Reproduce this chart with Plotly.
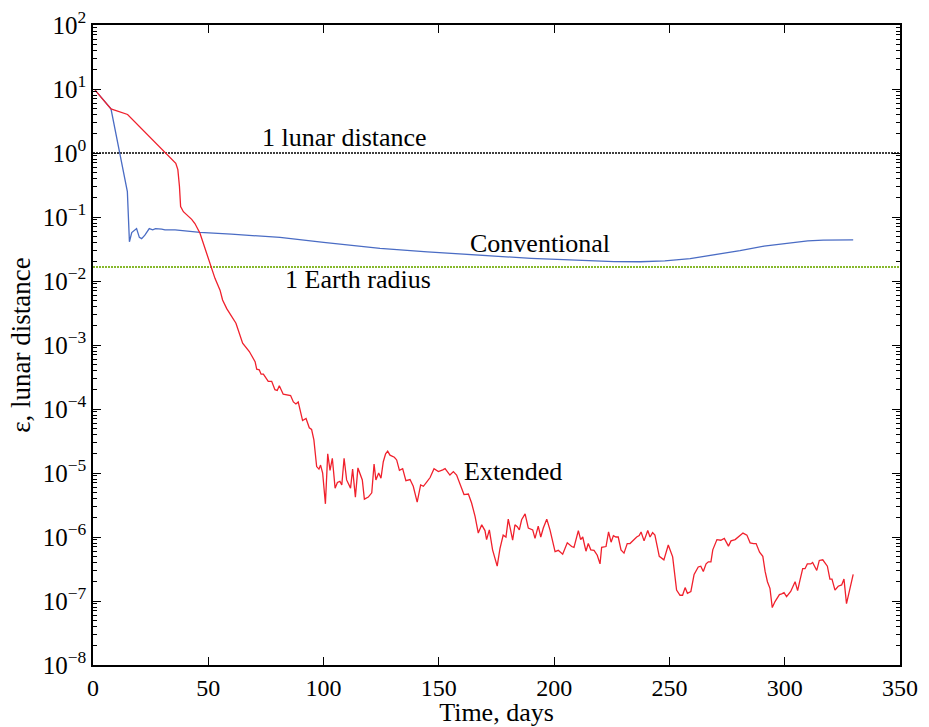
import math
import plotly.graph_objects as go

# ---------------- data ----------------
ext_days = [0.9, 7.8, 15.0, 35.9, 36.8, 37.5, 38.0, 39.2, 42.8, 44.2, 46.4, 48.6, 51.5, 52.9, 55.1,
            56.2, 58.0, 60.9, 62.0, 64.9, 67.8, 70.3, 71.0, 72.1, 72.9, 73.9, 76.0, 77.5, 78.9,
            79.9, 80.8, 82.5, 84.3, 85.7, 86.9, 88.0, 89.0, 90.9, 92.4, 93.8, 94.8, 95.8, 97.0,
            98.0, 98.7, 99.6, 100.8, 101.8, 102.8, 103.8, 105.0, 106.0, 107.1, 107.9, 108.9,
            110.0, 111.7, 112.6, 113.8, 114.9, 116.8, 117.7, 119.4, 120.9, 121.9, 122.7, 123.9,
            124.9, 125.9, 126.9, 127.8, 128.8, 130.7, 131.7, 132.9, 134.3, 135.7, 137.5, 138.9,
            140.6, 142.1, 143.3, 144.7, 146.2, 147.9, 149.8, 151.7, 152.7, 154.8, 156.3, 157.7,
            159.2, 160.9, 162.8, 164.2, 165.7, 167.1, 168.6, 170.0, 170.7, 171.9, 173.3, 175.3,
            176.5, 177.9, 179.1, 180.1, 181.1, 182.0, 183.0, 184.0, 184.9, 185.9, 187.4, 188.8,
            190.7, 191.7, 193.1, 194.2, 195.3, 196.8, 198.2, 199.4, 200.4, 201.8, 203.7, 205.7,
            207.6, 208.6, 210.5, 211.5, 212.4, 213.8, 214.8, 215.9, 217.3, 218.7, 219.9, 220.6,
            222.5, 223.6, 224.7, 225.7, 226.8, 227.8, 229.0, 230.3, 231.7, 232.9, 234.3, 235.8,
            236.9, 237.7, 239.0, 240.6, 241.6, 242.7, 243.7, 245.6, 247.6, 249.5, 251.4, 253.1,
            254.6, 255.7, 256.8, 257.8, 259.3, 260.7, 262.5, 263.6, 264.7, 265.9, 266.9, 268.0,
            268.8, 270.6, 272.3, 273.8, 275.6, 276.7, 278.5, 280.0, 281.9, 283.6, 285.0, 286.5,
            287.6, 289.1, 290.5, 291.5, 292.5, 293.6, 294.6, 295.8, 297.7, 298.7, 299.7, 300.8,
            302.6, 304.5, 305.6, 306.6, 307.8, 308.8, 309.8, 311.3, 312.1, 313.9, 315.0, 316.5,
            318.5, 319.6, 320.5, 321.8, 323.2, 324.7, 325.7, 326.8, 328.0, 329.7]
ext_vals = [9.6, 4.9, 4.0, 0.69, 0.55, 0.3, 0.145, 0.121, 0.092, 0.079, 0.0556, 0.0324, 0.0167, 0.011, 0.0072,
            5.05e-3, 3.7e-3, 2.45e-3, 2.19e-3, 1.07e-3, 7.9e-4, 5.5e-4, 4.2e-4, 4.1e-4, 3.5e-4, 3.5e-4, 2.7e-4, 2.7e-4, 2.0e-4,
            1.95e-4, 2.3e-4, 1.7e-4, 1.66e-4, 1.62e-4, 1.29e-4, 1.2e-4, 1.29e-4, 6.6e-5, 7.1e-5, 5.1e-5, 4.8e-5, 3.3e-5, 1.26e-5,
            1.15e-5, 1.33e-5, 1.0e-5, 3.3e-6, 2.0e-5, 1.1e-5, 1.7e-5, 5.8e-6, 7.1e-6, 7.4e-6, 6.5e-6, 1.7e-5,
            7.8e-6, 5.8e-6, 1.15e-5, 4.2e-6, 1.2e-5, 7.8e-6, 3.9e-6, 4.2e-6, 4.9e-6, 1.38e-5, 7.8e-6, 1.0e-5,
            8.3e-6, 1.5e-5, 2.0e-5, 2.2e-5, 1.9e-5, 1.76e-5, 1.6e-5, 1.1e-5, 1.17e-5, 7.6e-6, 7.9e-6, 6.2e-6,
            3.5e-6, 6.5e-6, 6.2e-6, 7.2e-6, 8.5e-6, 1.17e-5, 1.05e-5, 1.12e-5, 1.17e-5, 9.3e-6, 1.05e-5, 9.3e-6,
            6.5e-6, 4.6e-6, 4.7e-6, 3.4e-6, 2.1e-6, 1.15e-6, 1.55e-6, 1.26e-6, 9.1e-7, 1.29e-6, 6.3e-7, 3.5e-7,
            6.6e-7, 1.07e-6, 1.0e-6, 1.9e-6, 1.29e-6, 8.9e-7, 1.55e-6, 1.45e-6, 1.29e-6, 1.86e-6, 2.3e-6, 1.38e-6,
            1.29e-6, 9.5e-7, 1.48e-6, 1.0e-6, 1.38e-6, 1.9e-6, 1.29e-6, 8.9e-7, 5.9e-7, 6.2e-7, 5.4e-7, 8.1e-7,
            7.1e-7, 6.9e-7, 1.26e-6, 9.1e-7, 1.0e-6, 6.0e-7, 7.9e-7, 6.3e-7, 6.2e-7, 5.2e-7, 3.8e-7, 6.9e-7,
            7.1e-7, 1.2e-6, 8.3e-7, 1.05e-6, 1.0e-6, 1.0e-6, 6.3e-7, 5.6e-7, 7.9e-7, 7.9e-7, 8.9e-7, 1.0e-6,
            1.05e-6, 1.2e-6, 8.7e-7, 1.26e-6, 1.0e-6, 1.17e-6, 1.07e-6, 5.0e-7, 4.4e-7, 7.5e-7, 4.9e-7, 1.48e-7,
            1.23e-7, 1.23e-7, 1.62e-7, 1.32e-7, 1.41e-7, 2.6e-7, 3.4e-7, 3.5e-7, 2.9e-7, 3.8e-7, 4.1e-7, 4.1e-7,
            6.3e-7, 9.1e-7, 8.9e-7, 9.5e-7, 7.2e-7, 8.7e-7, 9.1e-7, 1.0e-6, 1.15e-6, 1.07e-6, 8.1e-7, 7.9e-7,
            7.9e-7, 5.8e-7, 5.0e-7, 2.9e-7, 2.0e-7, 1.58e-7, 7.9e-8, 9.8e-8, 1.26e-7, 1.29e-7, 1.35e-7, 1.17e-7,
            1.41e-7, 2.0e-7, 1.45e-7, 2.1e-7, 3.2e-7, 3.2e-7, 3.8e-7, 3.8e-7, 4.0e-7, 3.0e-7, 4.3e-7, 4.4e-7,
            3.5e-7, 2.2e-7, 2.2e-7, 1.48e-7, 1.7e-7, 1.78e-7, 2.2e-7, 9.1e-8, 1.48e-7, 2.6e-7]

conv_days = [0.9, 7.8, 14.9, 15.8, 16.8, 18.2, 18.9, 20.1, 21.1, 22.5, 24.4, 25.9, 27.1, 29.8, 31.2,
             35.6, 46.4, 60.0, 81.1, 100.0, 124.5, 145.0, 167.8, 190.0, 204.0, 215.6, 226.0, 237.3,
             248.0, 259.0, 270.0, 280.6, 291.0, 302.3, 310.0, 316.7, 323.0, 329.7]
conv_vals = [9.6, 4.9, 0.249, 0.041, 0.057, 0.063, 0.066, 0.048, 0.046, 0.052, 0.066, 0.063, 0.066, 0.0646, 0.063,
             0.063, 0.0575, 0.054, 0.048, 0.040, 0.0324, 0.0285, 0.0251, 0.0226, 0.0215, 0.0207, 0.0201, 0.0200,
             0.0207, 0.0224, 0.0256, 0.0298, 0.0350, 0.0398, 0.0423, 0.0436, 0.0442, 0.0438]

lunar_distance = 1.0
earth_radius = 0.0166
ref_x = [0, 350]

y_tick_exps = list(range(-8, 3))

label_texts = ["1 lunar distance", "1 Earth radius", "Conventional", "Extended"]
label_x = [109, 115, 194, 182]
label_y = [1.72, 0.0104, 0.039, 1.05e-5]

FONT = "Liberation Serif"

fig = go.Figure()
fig.add_trace(go.Scatter(x=ref_x, y=[lunar_distance] * 2, mode="lines",
                         line=dict(color="black", width=1.6, dash="2px,1px"), showlegend=False))
fig.add_trace(go.Scatter(x=ref_x, y=[earth_radius] * 2, mode="lines",
                         line=dict(color="#86b82c", width=2, dash="2px,1px"), showlegend=False))
fig.add_trace(go.Scatter(x=conv_days, y=conv_vals, mode="lines",
                         line=dict(color="#4a6cc4", width=1.3), showlegend=False))
fig.add_trace(go.Scatter(x=ext_days, y=ext_vals, mode="lines",
                         line=dict(color="#f0202c", width=1.3), showlegend=False))

for txt, lx, ly in zip(label_texts, label_x, label_y):
    fig.add_annotation(x=lx, y=math.log10(ly), text=txt, showarrow=False,
                       font=dict(family=FONT, size=26, color="black"))

fig.update_layout(
    width=929, height=727,
    margin=dict(l=93, r=29, t=25, b=62),
    plot_bgcolor="white", paper_bgcolor="white",
    font=dict(family=FONT, size=24, color="black"),
)
fig.update_xaxes(range=[0, 350], tickvals=[0, 50, 100, 150, 200, 250, 300, 350],
                 ticks="inside", ticklen=8, tickcolor="black", tickwidth=1,
                 showline=True, linecolor="black", linewidth=1.5, mirror="ticks",
                 showgrid=False, zeroline=False, automargin=False,
                 title=dict(text="Time, days", standoff=0, font=dict(size=26)),
                 tickfont=dict(size=24))
fig.update_yaxes(type="log", range=[-8, 2],
                 tickvals=[10 ** e for e in y_tick_exps],
                 ticktext=["10<sup>%s</sup>" % (str(e).replace("-", "−")) for e in y_tick_exps],
                 ticks="inside", ticklen=8, tickcolor="black", tickwidth=1,
                 showline=True, linecolor="black", linewidth=1.5, mirror="ticks",
                 showgrid=False, zeroline=False, automargin=False,
                 minor=dict(ticks="inside", ticklen=4, tickcolor="black", dtick="D1", showgrid=False),
                 title=dict(text="ε, lunar distance", standoff=4, font=dict(size=27)),
                 tickfont=dict(size=25))

fig.write_html("out.html")
